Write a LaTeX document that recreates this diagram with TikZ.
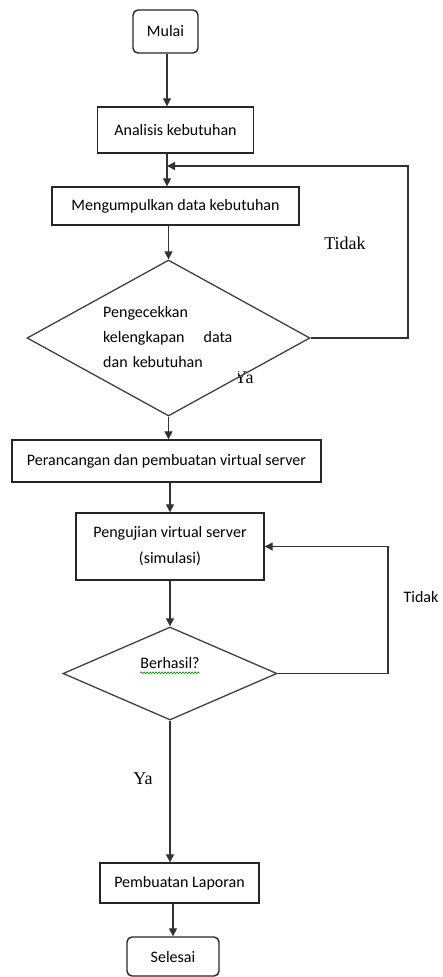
\documentclass[tikz,border=0pt]{standalone}
\usepackage{fontspec}
\setmainfont{Carlito}
\newfontfamily\seriffont{Liberation Serif}
\usetikzlibrary{arrows.meta,shapes.geometric,decorations.pathmorphing}
\begin{document}
\begin{tikzpicture}[x=1pt,y=-1pt,
  box/.style={draw=black!85,line width=1.4pt,rectangle,inner sep=0pt,font=\fontsize{16}{19}\selectfont,align=center},
  term/.style={box,rounded corners=5pt},
  dec/.style={draw=black!75,line width=1.3pt,diamond,inner sep=0pt},
  arr/.style={draw=black!80,line width=1.3pt,-{Triangle[length=8pt,width=8pt]}},
  lbl/.style={font=\fontsize{16}{19}\selectfont,inner sep=0pt},
  slbl/.style={font=\seriffont\fontsize{18}{20}\selectfont,inner sep=0pt}]
\useasboundingbox (0,0) rectangle (442,977);
% nodes
\node[term,minimum width=65pt,minimum height=43pt] (mulai) at (165.5,31.5) {Mulai};
\node[box,minimum width=156pt,minimum height=46pt] (analisis) at (175.5,130) {Analisis kebutuhan};
\node[box,minimum width=247pt,minimum height=38pt] (kumpul) at (175.5,206) {Mengumpulkan data kebutuhan};
\node[slbl] (ya1) at (244,378) {Ya};
\node[lbl,fill=white,text width=130pt,align=left,inner xsep=5pt,inner ysep=4pt,font=\fontsize{16}{25}\selectfont,anchor=north west] (cektxt) at (98,302) {Pengecekkan\\kelengkapan\hspace{19pt}data\\dan kebutuhan\rule[-14pt]{0pt}{14pt}};
\node[dec,minimum width=283pt,minimum height=156pt] (cek) at (168.5,338) {};
\node[slbl] (tidak1) at (345,243) {Tidak};
\node[box,minimum width=309pt,minimum height=42pt] (rancang) at (166.5,461) {Perancangan dan pembuatan virtual server};
\node[box,minimum width=188pt,minimum height=67pt,font=\fontsize{16}{26}\selectfont] (uji) at (170,546.5) {Pengujian virtual server\\(simulasi)};
\node[dec,minimum width=214pt,minimum height=93pt] (hasil) at (170,673.5) {};
\node[lbl] (hasiltxt) at (170,663) {Berhasil?};
\draw[green!60!black,line width=0.6pt,decorate,decoration={snake,amplitude=1pt,segment length=3pt}] ([yshift=-4pt]hasiltxt.south west) -- ([yshift=-4pt]hasiltxt.south east);
\node[lbl] (tidak2) at (421,597) {Tidak};
\node[slbl] (ya2) at (143,779) {Ya};
\node[box,minimum width=159pt,minimum height=40pt] (lapor) at (179.5,883) {Pembuatan Laporan};
\node[term,minimum width=92pt,minimum height=39pt] (selesai) at (173,956.5) {Selesai};
% connectors
\coordinate (colA) at (167,0);
\draw[arr] (colA |- mulai.south) -- (colA |- analisis.north);
\draw[arr] (colA |- analisis.south) -- (colA |- kumpul.north);
\coordinate (loopR) at (408,166);
\draw[arr] (cek.east) -| (loopR) -- (colA |- loopR);
\draw[arr] (cek.north |- kumpul.south) -- (cek.north);
\draw[arr] (cek.south) -- (cek.south |- rancang.north);
\draw[arr] (uji.north |- rancang.south) -- (uji.north);
\draw[arr] (hasil.north |- uji.south) -- (hasil.north);
\coordinate (loopR2) at (388,546.5);
\draw[arr] (hasil.east) -| (loopR2) -- (uji.east);
\draw[arr] (hasil.south) -- (hasil.south |- lapor.north);
\draw[arr] (selesai.north |- lapor.south) -- (selesai.north);
\end{tikzpicture}
\end{document}
